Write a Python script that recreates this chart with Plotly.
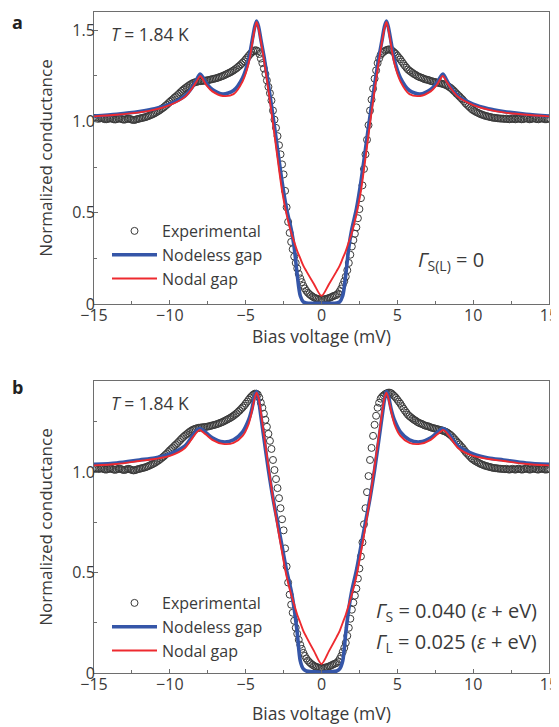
import plotly.graph_objects as go

# ---------------- data ----------------
# model curves share one bias grid (mV)
line_x = [-15, -13.5, -12, -11, -10, -9.0, -8.5, -8.2, -8.0, -7.85, -7.6, -7.2, -6.5, -5.8, -5.2,
          -4.8, -4.6, -4.4, -4.28, -4.15, -4.0, -3.8, -3.5, -3.2, -2.9, -2.6, -2.3, -2.0, -1.8,
          -1.6, -1.4, -1.2, -1.0, -0.5,
          0, 0.5, 1.0, 1.2, 1.4, 1.6, 1.8, 2.0, 2.3, 2.6, 2.9, 3.2, 3.5, 3.8, 4.0, 4.15, 4.28,
          4.4, 4.6, 4.8, 5.2, 5.8, 6.5, 7.2, 7.6, 7.85, 8.0, 8.2, 8.5, 9.0, 10, 11, 12, 13.5, 15]

# panel a (Gamma = 0)
nodeless_a = [1.03, 1.04, 1.055, 1.07, 1.095, 1.14, 1.19, 1.235, 1.26, 1.245, 1.21, 1.175, 1.15,
              1.17, 1.24, 1.34, 1.43, 1.52, 1.55, 1.52, 1.45, 1.36, 1.2, 1.03, 0.85, 0.67, 0.52,
              0.41, 0.31, 0.16, 0.045, 0.012, 0.006, 0.004,
              0.004, 0.004, 0.006, 0.012, 0.045, 0.16, 0.31, 0.41, 0.52, 0.67, 0.85, 1.03, 1.2,
              1.36, 1.45, 1.52, 1.55, 1.52, 1.43, 1.34, 1.24, 1.17, 1.15, 1.175, 1.21, 1.245, 1.26,
              1.235, 1.19, 1.14, 1.095, 1.07, 1.055, 1.04, 1.03]
nodal_a = [1.028, 1.037, 1.05, 1.065, 1.09, 1.135, 1.185, 1.225, 1.25, 1.235, 1.2, 1.165, 1.14,
           1.15, 1.22, 1.32, 1.41, 1.51, 1.545, 1.51, 1.44, 1.34, 1.17, 0.99, 0.8, 0.62, 0.49,
           0.39, 0.34, 0.29, 0.25, 0.21, 0.18, 0.11,
           0.045, 0.11, 0.18, 0.21, 0.25, 0.29, 0.34, 0.39, 0.49, 0.62, 0.8, 0.99, 1.17, 1.34,
           1.44, 1.51, 1.545, 1.51, 1.41, 1.32, 1.22, 1.15, 1.14, 1.165, 1.2, 1.235, 1.25, 1.225,
           1.185, 1.135, 1.09, 1.065, 1.05, 1.037, 1.028]

# panel b (finite Gamma)
nodeless_b = [1.038, 1.045, 1.06, 1.07, 1.09, 1.13, 1.18, 1.21, 1.217, 1.21, 1.195, 1.17, 1.15,
              1.16, 1.2, 1.26, 1.31, 1.38, 1.40, 1.36, 1.28, 1.17, 1.01, 0.87, 0.75, 0.63, 0.51,
              0.41, 0.32, 0.2, 0.06, 0.02, 0.01, 0.006,
              0.004, 0.006, 0.01, 0.02, 0.06, 0.2, 0.32, 0.41, 0.51, 0.63, 0.75, 0.87, 1.01, 1.17,
              1.28, 1.36, 1.40, 1.38, 1.31, 1.26, 1.2, 1.16, 1.15, 1.17, 1.195, 1.21, 1.217, 1.21,
              1.18, 1.13, 1.09, 1.07, 1.06, 1.045, 1.038]
nodal_b = [1.033, 1.04, 1.055, 1.065, 1.08, 1.12, 1.17, 1.2, 1.21, 1.2, 1.185, 1.16, 1.14,
           1.145, 1.18, 1.24, 1.3, 1.37, 1.395, 1.37, 1.3, 1.19, 1.03, 0.87, 0.73, 0.6, 0.48,
           0.39, 0.34, 0.29, 0.25, 0.21, 0.18, 0.11,
           0.045, 0.11, 0.18, 0.21, 0.25, 0.29, 0.34, 0.39, 0.48, 0.6, 0.73, 0.87, 1.03, 1.19,
           1.3, 1.37, 1.395, 1.37, 1.3, 1.24, 1.18, 1.145, 1.14, 1.16, 1.185, 1.2, 1.21, 1.2,
           1.17, 1.12, 1.08, 1.065, 1.055, 1.04, 1.033]

# experimental conductance, bias from -15 mV to +15 mV in 0.1 mV steps
exp_start = -15.0
exp_step = 0.1
experimental = [
    1.02, 1.018, 1.016, 1.015, 1.017, 1.019, 1.016, 1.013, 1.012, 1.014,
    1.016, 1.018, 1.015, 1.012, 1.011, 1.013, 1.016, 1.017, 1.014, 1.011,
    1.01, 1.012, 1.015, 1.016, 1.013, 1.01, 1.008, 1.009, 1.012, 1.014,
    1.016, 1.018, 1.02, 1.022, 1.024, 1.027, 1.03, 1.034, 1.037, 1.041,
    1.045, 1.05, 1.055, 1.06, 1.066, 1.072, 1.078, 1.085, 1.092, 1.1,
    1.108, 1.115, 1.122, 1.13, 1.137, 1.144, 1.152, 1.16, 1.168, 1.175,
    1.182, 1.188, 1.194, 1.2, 1.205, 1.21, 1.213, 1.216, 1.218, 1.22,
    1.221, 1.222, 1.223, 1.224, 1.225, 1.226, 1.228, 1.23, 1.232, 1.234,
    1.236, 1.238, 1.241, 1.244, 1.247, 1.25, 1.254, 1.258, 1.262, 1.266,
    1.27, 1.275, 1.28, 1.286, 1.292, 1.299, 1.306, 1.314, 1.322, 1.33,
    1.34, 1.35, 1.36, 1.37, 1.378, 1.385, 1.39, 1.39, 1.385, 1.37,
    1.345, 1.32, 1.29, 1.26, 1.225, 1.19, 1.155, 1.115, 1.06, 1.01,
    0.965, 0.92, 0.87, 0.82, 0.765, 0.71, 0.62, 0.53, 0.45, 0.39,
    0.34, 0.30, 0.26, 0.225, 0.195, 0.165, 0.14, 0.12, 0.1, 0.085,
    0.072, 0.062, 0.054, 0.047, 0.041, 0.036, 0.032, 0.029, 0.027, 0.026,
    0.025, 0.025, 0.026, 0.028, 0.030, 0.033, 0.036, 0.040, 0.044, 0.047,
    0.05, 0.058, 0.07, 0.085, 0.105, 0.125, 0.15, 0.185, 0.225, 0.27,
    0.315, 0.35, 0.385, 0.42, 0.47, 0.52, 0.58, 0.65, 0.74, 0.82,
    0.90, 0.98, 1.06, 1.12, 1.18, 1.235, 1.28, 1.32, 1.345, 1.365,
    1.375, 1.382, 1.388, 1.392, 1.395, 1.395, 1.392, 1.385, 1.378, 1.37,
    1.36, 1.35, 1.34, 1.328, 1.316, 1.305, 1.295, 1.285, 1.278, 1.272,
    1.266, 1.26, 1.256, 1.25, 1.246, 1.242, 1.24, 1.236, 1.232, 1.23,
    1.228, 1.226, 1.222, 1.22, 1.218, 1.216, 1.214, 1.212, 1.21, 1.208,
    1.206, 1.203, 1.20, 1.196, 1.19, 1.185, 1.178, 1.17, 1.162, 1.153,
    1.145, 1.137, 1.128, 1.12, 1.11, 1.1, 1.092, 1.084, 1.076, 1.068,
    1.062, 1.057, 1.052, 1.048, 1.044, 1.04, 1.037, 1.034, 1.031, 1.029,
    1.027, 1.025, 1.023, 1.021, 1.02, 1.019, 1.018, 1.017, 1.016, 1.016,
    1.015, 1.014, 1.016, 1.013, 1.012, 1.014, 1.016, 1.013, 1.012, 1.015,
    1.017, 1.014, 1.012, 1.013, 1.016, 1.018, 1.015, 1.012, 1.013, 1.016,
    1.018, 1.015, 1.013, 1.012, 1.015, 1.017, 1.016, 1.013, 1.012, 1.014, 1.016,
]

x_ticks = [-15, -10, -5, 0, 5, 10, 15]
y_ticks_a = [0, 0.5, 1.0, 1.5]
y_ticklabels_a = ["0", "0.5", "1.0", "1.5"]
y_ticks_b = [0, 0.5, 1.0]
y_ticklabels_b = ["0", "0.5", "1.0"]

# ---------------- styling ----------------
FONT = "Open Sans"
TXT = "#3a3a3a"
AX = "#6e6e6e"
BLUE = "#3556a8"
RED = "#ee2a2f"
CIRC = "#3a3a3a"

fig = go.Figure()

panels = [
    ("x", "y", "legend", nodeless_a, nodal_a),
    ("x2", "y2", "legend2", nodeless_b, nodal_b),
]
for xa, ya, lg, blue, red in panels:
    fig.add_trace(go.Scatter(
        x0=exp_start, dx=exp_step, y=experimental, mode="markers", name="Experimental",
        xaxis=xa, yaxis=ya, legend=lg,
        marker=dict(symbol="circle-open", size=7, color=CIRC, line=dict(width=1, color=CIRC)),
    ))
    fig.add_trace(go.Scatter(
        x=line_x, y=blue, mode="lines", name="Nodeless gap", xaxis=xa, yaxis=ya, legend=lg,
        line=dict(color=BLUE, width=3.6, shape="spline", smoothing=0.8),
    ))
    fig.add_trace(go.Scatter(
        x=line_x, y=red, mode="lines", name="Nodal gap", xaxis=xa, yaxis=ya, legend=lg,
        line=dict(color=RED, width=1.9, shape="spline", smoothing=0.8),
    ))

axis_common = dict(
    showline=True, linecolor=AX, linewidth=1, mirror=True,
    ticks="inside", ticklen=4, tickcolor=AX, tickwidth=1,
    showgrid=False, zeroline=False, automargin=False,
    tickfont=dict(family=FONT, size=16, color=TXT),
)
xcommon = dict(axis_common, range=[-15, 15], tickvals=x_ticks, ticklabeloverflow="allow",
               ticklabelstandoff=-3,
               minor=dict(ticks="inside", ticklen=3, tickcolor=AX, dtick=2.5, tick0=-15))
ycommon = dict(axis_common, ticklabelstandoff=-5,
               minor=dict(ticks="inside", ticklen=3, tickcolor=AX, dtick=0.25, tick0=0),
               title=dict(text="Normalized conductance", font=dict(family=FONT, size=17, color=TXT),
                          standoff=15))

# The page body adds an 8 px offset, so the figure is 551x719 and the plot area
# lands at window x 94..549, y 12..673.
OFF = 8
W, H = 559 - OFF, 727 - OFF
L, R, T, B = 86, 10, 4, 54
PW = W - L - R
PH = H - T - B

def py(p):  # window pixel row -> paper y
    return (H - B - (p - OFF)) / PH

def px(p):  # window pixel column -> paper x
    return ((p - OFF) - L) / PW

fig.update_layout(
    width=W, height=H,
    margin=dict(l=L, r=R, t=T, b=B),
    paper_bgcolor="white", plot_bgcolor="white",
    font=dict(family=FONT, color=TXT),
    showlegend=True,
    xaxis=dict(xcommon, domain=[0, 1], anchor="y"),
    yaxis=dict(ycommon, domain=[py(304), 1.0], anchor="x", range=[0, 1.6],
               tickvals=y_ticks_a, ticktext=y_ticklabels_a),
    xaxis2=dict(xcommon, domain=[0, 1], anchor="y2"),
    yaxis2=dict(ycommon, domain=[0, py(381)], anchor="x2", range=[0, 1.453],
                tickvals=y_ticks_b, ticktext=y_ticklabels_b),
    legend=dict(x=px(107), y=py(214), xanchor="left", yanchor="top",
                font=dict(family=FONT, size=16, color=TXT), bgcolor="rgba(0,0,0,0)",
                itemwidth=45, tracegroupgap=0),
    legend2=dict(x=px(107), y=py(586), xanchor="left", yanchor="top",
                 font=dict(family=FONT, size=16, color=TXT), bgcolor="rgba(0,0,0,0)",
                 itemwidth=45, tracegroupgap=0),
)

ann_font = dict(family=FONT, size=17.5, color=TXT)
gam_font = dict(family=FONT, size=20, color=TXT)
xt_font = dict(family=FONT, size=17.5, color=TXT)
annotations = [
    dict(text="<b>a</b>", x=px(10), y=py(8.5), yanchor="top",
         font=dict(family=FONT, size=18, color="#222")),
    dict(text="<b>b</b>", x=px(10), y=py(373), yanchor="top",
         font=dict(family=FONT, size=18, color="#222")),
    dict(text="<i>T</i> = 1.84 K", x=px(109), y=py(34), font=ann_font),
    dict(text="<i>T</i> = 1.84 K", x=px(109), y=py(403), font=ann_font),
    dict(text="<i>Γ</i><sub>S(L)</sub> = 0", x=px(416), y=py(260), font=gam_font),
    dict(text="<i>Γ</i><sub>S</sub> = 0.040 (<i>ε</i> + eV)", x=px(374), y=py(611), font=gam_font),
    dict(text="<i>Γ</i><sub>L</sub> = 0.025 (<i>ε</i> + eV)", x=px(374), y=py(642), font=gam_font),
]
for a in annotations:
    a.setdefault("yanchor", "middle")
    fig.add_annotation(xref="paper", yref="paper", xanchor="left", showarrow=False, **a)

# x-axis titles placed under each panel
for yy in (py(336), py(713)):
    fig.add_annotation(text="Bias voltage (mV)", xref="paper", yref="paper", x=0.5, y=yy,
                       xanchor="center", yanchor="middle", showarrow=False, font=xt_font)

fig.write_html("out.html")
